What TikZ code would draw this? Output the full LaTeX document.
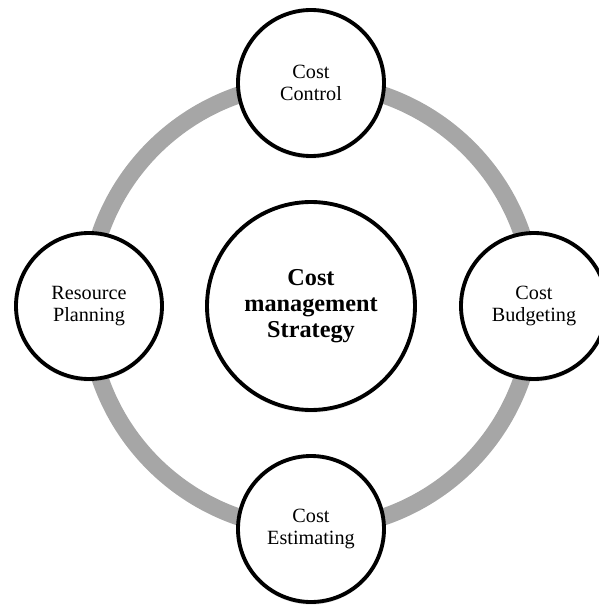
\documentclass[tikz,border=0pt]{standalone}
\usepackage{fontspec}
\setmainfont{Liberation Serif}
\usetikzlibrary{shadows}
\definecolor{ringgray}{RGB}{166,166,166}

\begin{document}
\begin{tikzpicture}[
  phase/.style={circle,draw=black,line width=2.2pt,fill=white,
    minimum size=2.92cm,inner sep=0pt,align=center,
    font=\fontsize{11.5}{12.5}\selectfont,
    drop shadow={opacity=0.2,shadow xshift=0pt,shadow yshift=-1.5pt}},
  hub/.style={phase,minimum size=4.16cm,
    font=\fontsize{13.8}{14.7}\selectfont\bfseries}]
  \clip (-6.22,-6.06) rectangle (5.76,6.12);
  % grey ring that carries the four phases
  \draw[ringgray,line width=0.34cm] (0,0) circle (4.46cm);
  \node[hub] (strategy) at (0,0) {Cost\\management\\Strategy};
  \node[phase] (control)  at (90:4.46)  {Cost\\Control};
  \node[phase] (budget)   at (0:4.46)   {Cost\\Budgeting};
  \node[phase] (estimate) at (270:4.46) {Cost\\Estimating};
  \node[phase] (resource) at (180:4.44) {Resource\\Planning};
\end{tikzpicture}
\end{document}
